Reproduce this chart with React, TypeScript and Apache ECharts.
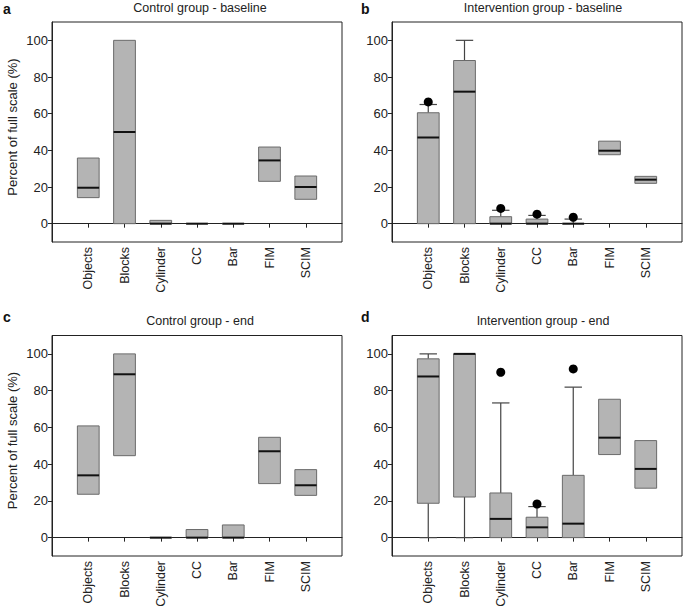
import React, { useEffect, useRef } from "react";
import * as echarts from "echarts";

const categories = ["Objects", "Blocks", "Cylinder", "CC", "Bar", "FIM", "SCIM"];
const yTicks = [0, 20, 40, 60, 80, 100];

// each row: [min, Q1, median, Q3, max]
const controlBaseline = [
  [14.2, 14.2, 19.6, 35.8, 35.8],
  [0, 0, 50, 100, 100],
  [0, 0, 0, 1.8, 1.8],
  [0, 0, 0, 0, 0],
  [0, 0, 0, 0, 0],
  [23.1, 23.1, 34.5, 41.8, 41.8],
  [13.3, 13.3, 20, 26, 26],
];
const interventionBaseline = [
  [0, 0, 47, 60.5, 65],
  [0, 0, 72, 89, 100],
  [0, 0, 0, 3.8, 7.3],
  [0, 0, 0, 2.5, 4.5],
  [0, 0, 0, 0, 2.5],
  [37.6, 37.6, 39.8, 45, 45],
  [22, 22, 24, 25.8, 25.8],
];
const controlEnd = [
  [23.6, 23.6, 33.9, 60.8, 60.8],
  [44.6, 44.6, 88.9, 100, 100],
  [0, 0, 0, 0, 0],
  [0, 0, 0, 4.4, 4.4],
  [0, 0, 0, 6.9, 6.9],
  [29.4, 29.4, 47, 54.6, 54.6],
  [23, 23, 28.5, 37, 37],
];
const interventionEnd = [
  [0, 18.7, 87.7, 97.3, 100],
  [0, 22.1, 100, 100, 100],
  [0, 0, 10.2, 24.3, 73.3],
  [0, 0, 5.6, 11.1, 16.9],
  [0, 0, 7.6, 33.9, 81.9],
  [45.2, 45.2, 54.4, 75.3, 75.3],
  [26.9, 26.9, 37.4, 52.8, 52.8],
];
// outliers: [category index (1-based), value]
const controlBaselineOutliers: number[][] = [];
const interventionBaselineOutliers = [
  [1, 66.4],
  [3, 8.3],
  [4, 5.2],
  [5, 3.5],
];
const controlEndOutliers: number[][] = [];
const interventionEndOutliers = [
  [3, 90],
  [4, 18.3],
  [5, 91.8],
];

const panelTitles = [
  "Control group - baseline",
  "Intervention group - baseline",
  "Control group - end",
  "Intervention group - end",
];
const panelLetters = ["a", "b", "c", "d"];

const FONT = "'Liberation Sans', Arial, Helvetica, sans-serif";

const grids = [
  { left: 52, top: 22, width: 290, height: 220 },
  { left: 392, top: 22, width: 290, height: 220 },
  { left: 52, top: 335.5, width: 290, height: 220.5 },
  { left: 392, top: 335.5, width: 290, height: 220.5 },
];

function renderBox(params: any, api: any) {
  const x = api.value(0);
  const mn = api.value(1);
  const q1 = api.value(2);
  const md = api.value(3);
  const q3 = api.value(4);
  const mx = api.value(5);
  const hb = 0.3;
  const hc = 0.24;
  const children: any[] = [];
  const wStyle = { stroke: "#444", lineWidth: 1.2 };
  const line = (a: number[], b: number[], style: any) => ({
    type: "line",
    shape: { x1: a[0], y1: a[1], x2: b[0], y2: b[1] },
    style,
  });
  if (mx > q3) {
    children.push(line(api.coord([x, q3]), api.coord([x, mx]), wStyle));
    children.push(line(api.coord([x - hc, mx]), api.coord([x + hc, mx]), wStyle));
  }
  if (mn < q1) {
    children.push(line(api.coord([x, q1]), api.coord([x, mn]), wStyle));
    children.push(line(api.coord([x - hc, mn]), api.coord([x + hc, mn]), wStyle));
  }
  const pL = api.coord([x - hb, q3]);
  const pR = api.coord([x + hb, q1]);
  children.push({
    type: "rect",
    shape: { x: pL[0], y: pL[1], width: pR[0] - pL[0], height: pR[1] - pL[1] },
    style: { fill: "#b4b4b4", stroke: "#6a6a6a", lineWidth: 1 },
  });
  children.push(
    line(api.coord([x - hb, md]), api.coord([x + hb, md]), { stroke: "#111", lineWidth: 2 })
  );
  return { type: "group", children };
}

export default function App() {
  const ref = useRef<HTMLDivElement>(null);
  useEffect(() => {
    if (!ref.current) return;
    const chart = echarts.init(ref.current, null, { renderer: "svg" });
    const panels = [controlBaseline, interventionBaseline, controlEnd, interventionEnd];
    const outliers = [
      controlBaselineOutliers,
      interventionBaselineOutliers,
      controlEndOutliers,
      interventionEndOutliers,
    ];
    const catIdx = categories.map((_, i) => i + 1);

    const xAxis = grids.map((_, i) => ({
      type: "value",
      gridIndex: i,
      min: 0,
      max: 8,
      splitLine: { show: false },
      axisLine: { show: true, lineStyle: { color: "#222", width: 1 } },
      axisTick: { show: true, customValues: catIdx, length: 4, lineStyle: { color: "#222" } },
      axisLabel: {
        customValues: catIdx,
        formatter: (v: number) => categories[Math.round(v) - 1] ?? "",
        rotate: 90,
        fontSize: 12.5,
        fontFamily: FONT,
        color: "#222",
        margin: 5,
      },
    }));
    const yAxis = grids.map((_, i) => ({
      type: "value",
      gridIndex: i,
      min: -10,
      max: 110,
      splitLine: { show: false },
      axisLine: { show: true, lineStyle: { color: "#222", width: 1 } },
      axisTick: { show: true, customValues: yTicks, length: 4, lineStyle: { color: "#222" } },
      axisLabel: {
        customValues: yTicks,
        fontSize: 13,
        fontFamily: FONT,
        color: "#222",
        margin: 4,
      },
    }));

    const series: any[] = [];
    panels.forEach((rows, i) => {
      series.push({
        type: "custom",
        xAxisIndex: i,
        yAxisIndex: i,
        renderItem: renderBox,
        encode: { x: 0, y: [1, 2, 3, 4, 5] },
        data: rows.map((r, k) => [k + 1, ...r]),
        z: 2,
      });
      series.push({
        type: "scatter",
        xAxisIndex: i,
        yAxisIndex: i,
        symbol: "circle",
        symbolSize: 9,
        itemStyle: { color: "#000", opacity: 1 },
        data: outliers[i],
        z: 3,
      });
    });

    const graphic: any[] = [];
    grids.forEach((g, i) => {
      graphic.push({
        type: "text",
        x: g.left + g.width / 2 + (i % 2 === 1 ? 6 : 3),
        y: i < 2 ? 8 : 321,
        style: {
          text: panelTitles[i],
          font: `12.5px ${FONT}`,
          fill: "#222",
          textAlign: "center",
          textVerticalAlign: "middle",
        },
      });
      graphic.push({
        type: "text",
        x: i % 2 === 0 ? 3 : 361,
        y: i < 2 ? 9 : 317,
        style: {
          text: panelLetters[i],
          font: `bold 14px ${FONT}`,
          fill: "#111",
          textAlign: "left",
          textVerticalAlign: "middle",
        },
      });
      if (i % 2 === 0) {
        graphic.push({
          type: "text",
          x: 12,
          y: g.top + 105,
          rotation: Math.PI / 2,
          style: {
            text: "Percent of full scale (%)",
            font: `13px ${FONT}`,
            fill: "#222",
            textAlign: "center",
            textVerticalAlign: "middle",
          },
        });
      }
    });

    chart.setOption({
      animation: false,
      backgroundColor: "#fff",
      grid: grids.map((g) => ({
        ...g,
        show: true,
        borderColor: "#222",
        borderWidth: 1,
        backgroundColor: "transparent",
        containLabel: false,
      })),
      xAxis,
      yAxis,
      series,
      graphic,
    });
    return () => chart.dispose();
  }, []);
  return (
    <div
      ref={ref}
      style={{ position: "absolute", left: 0, top: 0, width: 685, height: 612, background: "#fff" }}
    />
  );
}
